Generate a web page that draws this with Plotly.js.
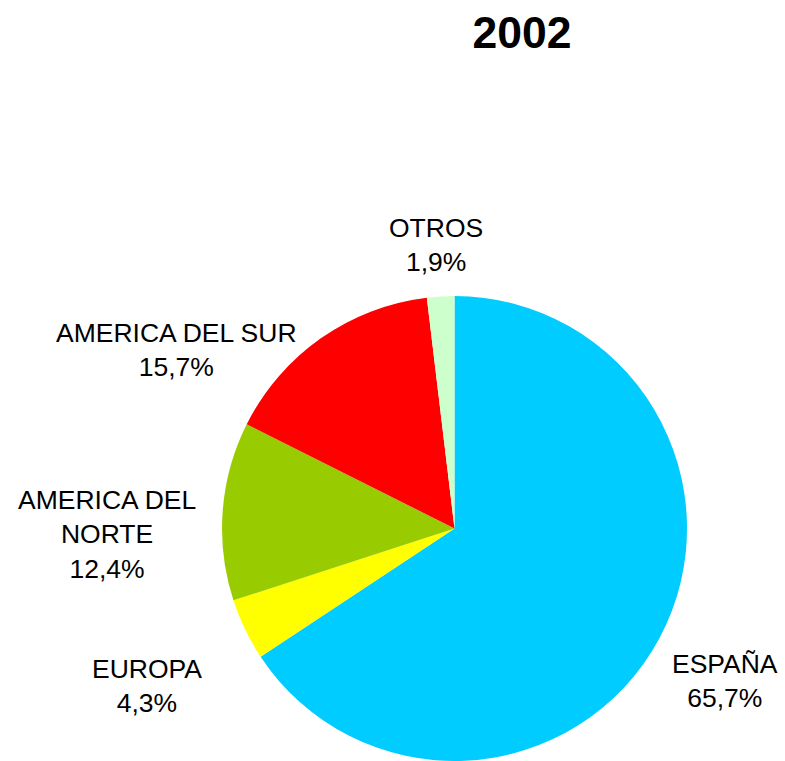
<!DOCTYPE html>
<html>
<head>
<meta charset="utf-8">
<script src="https://cdn.plot.ly/plotly-3.0.1.min.js"></script>
<style>html,body{margin:0;padding:0;background:#fff;}#chart{width:785px;height:761px;}</style>
</head>
<body>
<div id="chart"></div>
<script>
// Data
const categories = ["ESPAÑA", "EUROPA", "AMERICA DEL NORTE", "AMERICA DEL SUR", "OTROS"];
const displayLabels = ["ESPAÑA", "EUROPA", "AMERICA DEL<br>NORTE", "AMERICA DEL SUR", "OTROS"];
const values = [65.7, 4.3, 12.4, 15.7, 1.9];
const colors = ["#00CCFF", "#FFFF00", "#99CC00", "#FF0000", "#CCFFCC"];
const chartTitle = "2002";

// Label placement (paper coordinates), layout only
const labelPos = [
  [725/785, 1 - 681/761],
  [147/785, 1 - 686/761],
  [107/785, 1 - 534/761],
  [176/785, 1 - 350/761],
  [436/785, 1 - 245/761]
];

const fmt = v => v.toFixed(1).replace('.', ',') + '%';

const annotations = categories.map((c, i) => ({
  xref: 'paper', yref: 'paper',
  x: labelPos[i][0], y: labelPos[i][1],
  xanchor: 'center', yanchor: 'middle',
  text: displayLabels[i] + '<br>' + fmt(values[i]),
  showarrow: false,
  align: 'center',
  font: {family: 'Liberation Sans, Arial, sans-serif', size: 26.5, color: '#000'}
}));

const trace = {
  type: 'pie',
  labels: categories,
  values: values,
  marker: {colors: colors, line: {width: 0}},
  sort: false,
  direction: 'clockwise',
  rotation: 0,
  textinfo: 'none',
  hoverinfo: 'label+percent',
  showlegend: false,
  domain: {x: [0.2822, 0.8758], y: [0, 0.611]}
};

const layout = {
  width: 785, height: 761,
  margin: {l: 0, r: 0, t: 0, b: 0},
  paper_bgcolor: '#fff',
  title: {
    text: '<b>' + chartTitle + '</b>',
    x: 522/785, xanchor: 'center',
    y: 1 - 32/761, yanchor: 'middle',
    xref: 'paper', yref: 'paper',
    font: {family: 'Liberation Sans, Arial, sans-serif', size: 44.5, color: '#000'}
  },
  annotations: annotations,
  showlegend: false
};

Plotly.newPlot('chart', [trace], layout, {displayModeBar: false, staticPlot: true});
</script>
</body>
</html>
